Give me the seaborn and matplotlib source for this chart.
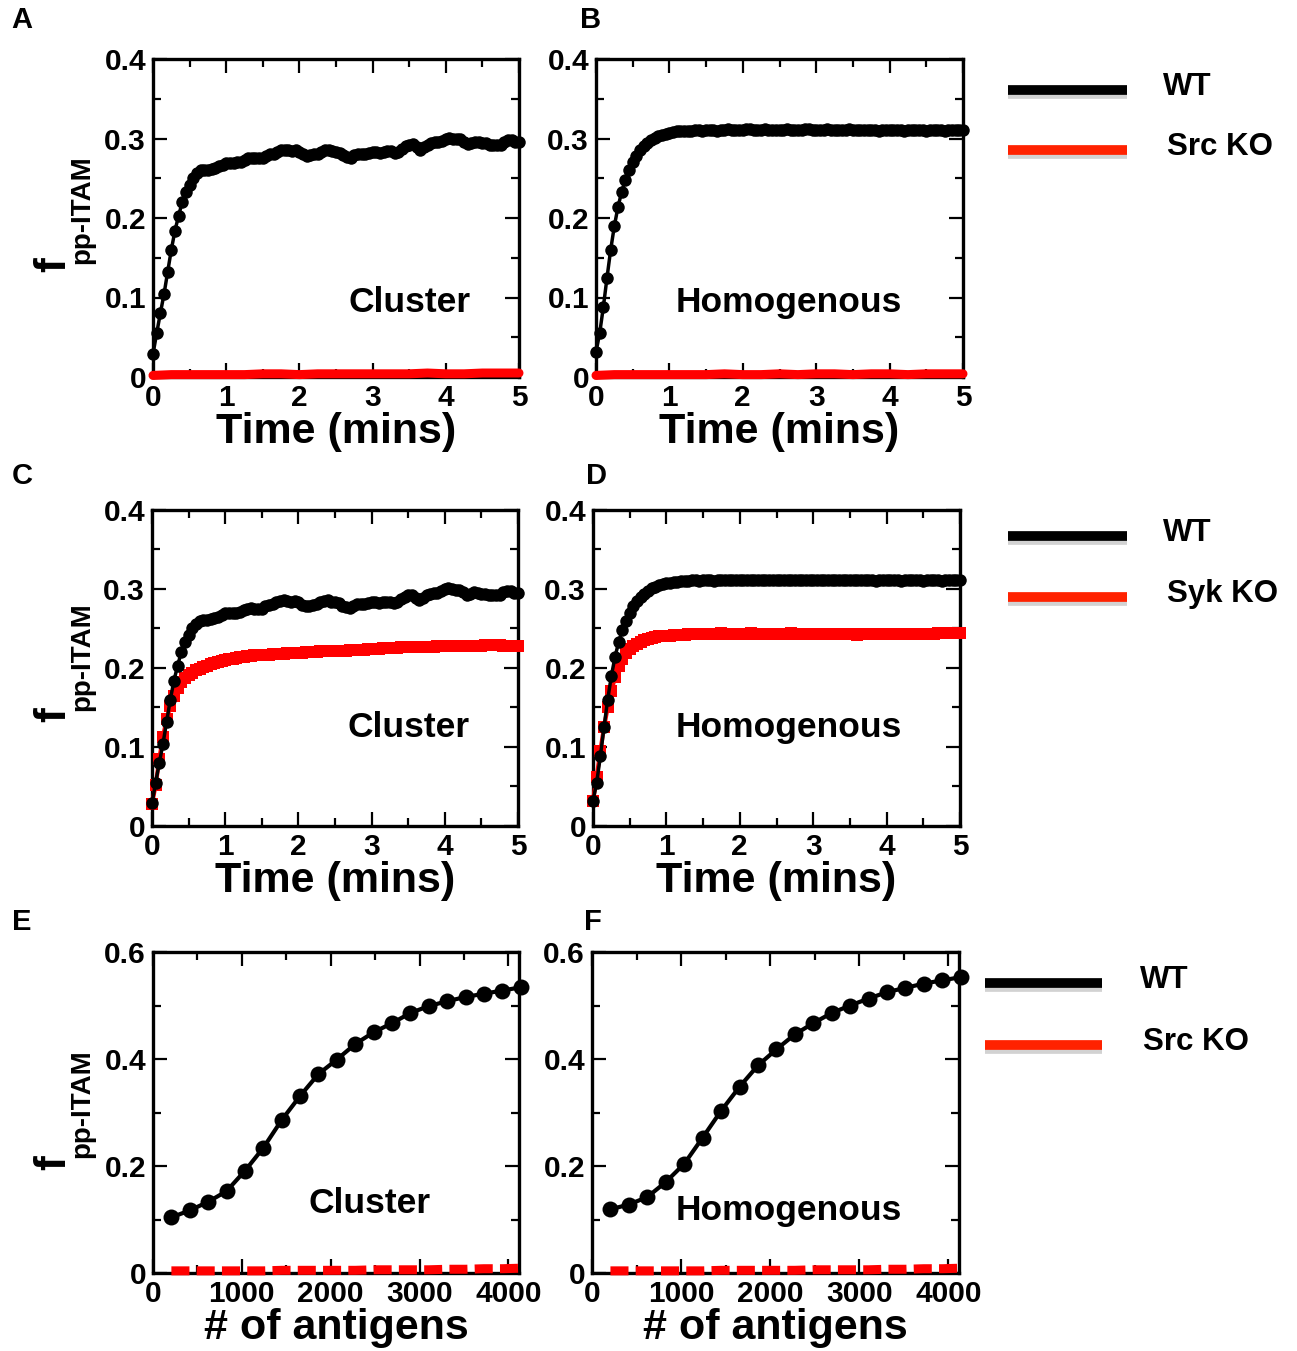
import numpy as np
import matplotlib
matplotlib.use("Agg")
import matplotlib.pyplot as plt
import matplotlib.patheffects as pe
from matplotlib.lines import Line2D
from matplotlib.ticker import MultipleLocator
import seaborn as sns

# ---------------- data ----------------
time_min = np.round(np.arange(0, 5.001, 0.05), 2)          # 101 samples
time_ko = [0, 0.25, 0.5, 0.75, 1.0, 1.25, 1.5, 1.75, 2.0, 2.25, 2.5,
           2.75, 3.0, 3.25, 3.5, 3.75, 4.0, 4.25, 4.5, 4.75, 5.0]

wt_cluster = [0.029, 0.055, 0.080, 0.104, 0.132, 0.160, 0.184, 0.203, 0.220, 0.233,
              0.242, 0.250, 0.256, 0.260, 0.261, 0.261, 0.262, 0.263, 0.265, 0.267,
              0.269, 0.269, 0.269, 0.270, 0.271, 0.273, 0.275, 0.276, 0.275, 0.275,
              0.275, 0.278, 0.280, 0.281, 0.283, 0.285, 0.286, 0.285, 0.284, 0.285,
              0.283, 0.280, 0.278, 0.279, 0.280, 0.281, 0.283, 0.285, 0.286, 0.284,
              0.283, 0.282, 0.279, 0.277, 0.276, 0.279, 0.281, 0.281, 0.281, 0.282,
              0.283, 0.283, 0.282, 0.283, 0.284, 0.284, 0.282, 0.283, 0.287, 0.290,
              0.292, 0.293, 0.289, 0.286, 0.289, 0.292, 0.294, 0.295, 0.295, 0.297,
              0.300, 0.301, 0.300, 0.299, 0.299, 0.296, 0.293, 0.294, 0.296, 0.295,
              0.294, 0.294, 0.292, 0.292, 0.292, 0.292, 0.296, 0.298, 0.298, 0.295,
              0.295]

wt_homog = [0.0315, 0.055, 0.088, 0.125, 0.160, 0.190, 0.214, 0.233, 0.248, 0.260,
            0.270, 0.278, 0.285, 0.290, 0.294, 0.298, 0.301, 0.303, 0.305, 0.306,
            0.307, 0.308, 0.309, 0.309, 0.310, 0.310, 0.310, 0.311, 0.311, 0.310,
            0.311, 0.311, 0.311, 0.310, 0.311, 0.311, 0.312, 0.311, 0.311, 0.311,
            0.311, 0.312, 0.312, 0.311, 0.311, 0.311, 0.312, 0.311, 0.311, 0.311,
            0.311, 0.311, 0.312, 0.311, 0.311, 0.311, 0.311, 0.312, 0.312, 0.311,
            0.311, 0.311, 0.311, 0.312, 0.311, 0.311, 0.311, 0.311, 0.311, 0.312,
            0.311, 0.311, 0.311, 0.311, 0.311, 0.311, 0.311, 0.310, 0.311, 0.311,
            0.311, 0.311, 0.311, 0.311, 0.310, 0.311, 0.311, 0.311, 0.311, 0.311,
            0.310, 0.311, 0.311, 0.311, 0.311, 0.310, 0.311, 0.311, 0.311, 0.311,
            0.311]

sykko_cluster = [0.028, 0.052, 0.085, 0.113, 0.135, 0.152, 0.165, 0.175, 0.182, 0.187,
                 0.191, 0.194, 0.197, 0.199, 0.201, 0.203, 0.205, 0.206, 0.208, 0.209,
                 0.210, 0.211, 0.212, 0.213, 0.214, 0.214, 0.215, 0.215, 0.216, 0.216,
                 0.217, 0.217, 0.217, 0.218, 0.218, 0.218, 0.218, 0.219, 0.219, 0.219,
                 0.219, 0.219, 0.220, 0.220, 0.220, 0.220, 0.221, 0.221, 0.221, 0.222,
                 0.222, 0.222, 0.222, 0.222, 0.223, 0.223, 0.223, 0.223, 0.223, 0.224,
                 0.224, 0.224, 0.224, 0.225, 0.225, 0.225, 0.225, 0.225, 0.226, 0.226,
                 0.226, 0.226, 0.226, 0.227, 0.227, 0.227, 0.227, 0.227, 0.228, 0.228,
                 0.228, 0.228, 0.228, 0.228, 0.228, 0.228, 0.228, 0.228, 0.228, 0.228,
                 0.228, 0.229, 0.229, 0.229, 0.229, 0.229, 0.228, 0.228, 0.228, 0.228,
                 0.228]

sykko_homog = [0.032, 0.062, 0.095, 0.125, 0.150, 0.171, 0.188, 0.202, 0.212, 0.219,
               0.224, 0.228, 0.231, 0.233, 0.235, 0.237, 0.238, 0.239, 0.240, 0.240,
               0.241, 0.241, 0.242, 0.242, 0.242, 0.242, 0.243, 0.243, 0.243, 0.243,
               0.243, 0.243, 0.243, 0.243, 0.243, 0.244, 0.243, 0.243, 0.243, 0.243,
               0.243, 0.243, 0.243, 0.244, 0.243, 0.243, 0.243, 0.243, 0.243, 0.243,
               0.243, 0.243, 0.243, 0.243, 0.244, 0.243, 0.243, 0.243, 0.243, 0.243,
               0.243, 0.243, 0.243, 0.243, 0.243, 0.243, 0.243, 0.243, 0.243, 0.243,
               0.243, 0.243, 0.242, 0.243, 0.243, 0.243, 0.243, 0.243, 0.243, 0.243,
               0.243, 0.243, 0.243, 0.243, 0.243, 0.243, 0.243, 0.243, 0.243, 0.243,
               0.243, 0.243, 0.243, 0.243, 0.244, 0.244, 0.244, 0.244, 0.244, 0.244,
               0.244]

srcko_cluster = [0.002, 0.003, 0.003, 0.003, 0.003, 0.003, 0.004, 0.004, 0.003, 0.004,
                 0.004, 0.004, 0.004, 0.004, 0.004, 0.005, 0.004, 0.004, 0.005, 0.005, 0.005]
srcko_homog = [0.002, 0.003, 0.003, 0.003, 0.003, 0.003, 0.003, 0.004, 0.003, 0.003,
               0.004, 0.003, 0.004, 0.004, 0.003, 0.004, 0.004, 0.003, 0.004, 0.004, 0.004]

antigens = [207, 414, 621, 828, 1035, 1242, 1449, 1656, 1863, 2070,
            2277, 2484, 2691, 2898, 3105, 3312, 3519, 3726, 3933, 4140]
wt_dose_cluster = [0.104, 0.117, 0.133, 0.153, 0.191, 0.234, 0.286, 0.331, 0.372, 0.399,
                   0.428, 0.450, 0.467, 0.486, 0.499, 0.508, 0.516, 0.522, 0.528, 0.534]
wt_dose_homog = [0.119, 0.128, 0.142, 0.170, 0.204, 0.253, 0.303, 0.348, 0.388, 0.418,
                 0.446, 0.467, 0.486, 0.500, 0.513, 0.525, 0.533, 0.541, 0.547, 0.553]
srcko_dose_cluster = [0.004, 0.004, 0.004, 0.004, 0.004, 0.004, 0.005, 0.005, 0.005, 0.005,
                      0.005, 0.006, 0.006, 0.006, 0.006, 0.007, 0.007, 0.008, 0.008, 0.009]
srcko_dose_homog = [0.004, 0.004, 0.004, 0.004, 0.004, 0.004, 0.005, 0.005, 0.005, 0.005,
                    0.005, 0.006, 0.006, 0.006, 0.006, 0.007, 0.007, 0.008, 0.008, 0.009]

time_ticks = [0, 1, 2, 3, 4, 5]
time_ticklabels = ["0", "1", "2", "3", "4", "5"]
frac_ticks = [0, 0.1, 0.2, 0.3, 0.4]
frac_ticklabels = ["0", "0.1", "0.2", "0.3", "0.4"]
dose_xticks = [0, 1000, 2000, 3000, 4000]
dose_xticklabels = ["0", "1000", "2000", "3000", "4000"]
dose_yticks = [0, 0.2, 0.4, 0.6]
dose_yticklabels = ["0", "0.2", "0.4", "0.6"]

panel_letters = ["A", "B", "C", "D", "E", "F"]
panel_texts = ["Cluster", "Homogenous", "Cluster", "Homogenous", "Cluster", "Homogenous"]
legend_rows = [("WT", "Src KO"), ("WT", "Syk KO"), ("WT", "Src KO")]

# ---------------- style ----------------
sns.set_style("white")
plt.rcParams["font.family"] = ["Liberation Sans", "DejaVu Sans"]
plt.rcParams["font.weight"] = "bold"
plt.rcParams["axes.labelweight"] = "bold"
plt.rcParams["text.color"] = "black"
plt.rcParams["axes.labelcolor"] = "black"
plt.rcParams["xtick.color"] = "black"
plt.rcParams["ytick.color"] = "black"

W, H = 1297, 1351
fig = plt.figure(figsize=(W / 100, H / 100), dpi=100)


def rect(l, r, t, b):
    return [l / W, 1 - b / H, (r - l) / W, (b - t) / H]


RED = "#ff0000"
LEG_RED = "#ff2200"


def style_axes(ax, xt, xtl, yt, ytl, xminor, yminor, xlabel):
    ax.set_xticks(xt)
    ax.set_xticklabels(xtl)
    ax.set_yticks(yt)
    ax.set_yticklabels(ytl)
    ax.xaxis.set_minor_locator(MultipleLocator(xminor))
    ax.yaxis.set_minor_locator(MultipleLocator(yminor))
    ax.tick_params(which="both", direction="in", top=True, right=True,
                   bottom=True, left=True, width=1.6, color="black")
    ax.tick_params(which="major", length=10, labelsize=21.5, pad=5,
                   labelcolor="black")
    ax.tick_params(which="minor", length=6)
    for lab in ax.get_xticklabels() + ax.get_yticklabels():
        lab.set_fontweight("bold")
    for s in ax.spines.values():
        s.set_linewidth(2.4)
        s.set_color("black")
    ax.set_xlabel(xlabel, fontsize=31, fontweight="bold", labelpad=0, color="black")
    ax.set_ylabel("")
    ax.grid(False)


axes_rects = [rect(153, 519, 59, 377), rect(596, 963, 59, 377),
              rect(152, 518, 510, 826), rect(593, 960, 510, 826),
              rect(153, 519, 952, 1273), rect(592, 959, 952, 1273)]
axs = [fig.add_axes(r) for r in axes_rects]

wt_time = [wt_cluster, wt_homog, wt_cluster, wt_homog]
for i in range(4):
    ax = axs[i]
    if i in (0, 1):
        ko = srcko_cluster if i == 0 else srcko_homog
        sns.lineplot(x=time_ko, y=ko, ax=ax, color=RED, linewidth=6.5,
                     estimator=None, clip_on=False, zorder=6)
    else:
        ko = sykko_cluster if i == 2 else sykko_homog
        sns.lineplot(x=time_min, y=ko, ax=ax, color=RED, linewidth=3,
                     marker="s", markersize=8.5, markeredgewidth=0,
                     estimator=None, clip_on=False, zorder=4)
    sns.lineplot(x=time_min, y=wt_time[i], ax=ax, color="black", linewidth=2.5,
                 marker="o", markersize=9, markeredgewidth=0,
                 estimator=None, clip_on=False, zorder=5)
    ax.set_xlim(0, 5)
    ax.set_ylim(0, 0.4)
    style_axes(ax, time_ticks, time_ticklabels, frac_ticks, frac_ticklabels,
               0.5, 0.05, "Time (mins)")

dose_wt = [wt_dose_cluster, wt_dose_homog]
dose_ko = [srcko_dose_cluster, srcko_dose_homog]
for j in range(2):
    ax = axs[4 + j]
    sns.lineplot(x=antigens, y=dose_ko[j], ax=ax, color=RED, linewidth=6.5,
                 estimator=None, clip_on=False, zorder=6)
    ax.lines[-1].set_dashes([2.0, 0.8])
    sns.lineplot(x=antigens, y=dose_wt[j], ax=ax, color="black", linewidth=3,
                 marker="o", markersize=11.5, markeredgewidth=0,
                 estimator=None, clip_on=False, zorder=5)
    ax.set_xlim(0, 4120)
    ax.set_ylim(0, 0.6)
    style_axes(ax, dose_xticks, dose_xticklabels, dose_yticks, dose_yticklabels,
               500, 0.1, "# of antigens")

# panel inner texts (axes fraction)
text_pos = [(0.70, 0.233), (0.526, 0.233), (0.702, 0.313), (0.534, 0.313),
            (0.593, 0.218), (0.537, 0.196)]
for ax, txt, (px, py) in zip(axs, panel_texts, text_pos):
    ax.text(px, py, txt, transform=ax.transAxes, fontsize=25.5, fontweight="bold",
            ha="center", va="center", color="black")

# panel letters
letter_pos = [(22, 20), (591, 20), (22, 476), (596, 476), (22, 922), (593, 922)]
for L, (x, y) in zip(panel_letters, letter_pos):
    fig.text(x / W, 1 - y / H, L, fontsize=21, fontweight="bold",
             ha="center", va="center", color="black")

# y labels  f_{pp-ITAM}
for fy, sy in [(265, 210), (715, 657), (1163, 1104)]:
    fig.text(54 / W, 1 - fy / H, "f", rotation=90, fontsize=32, fontweight="bold",
             ha="center", va="center", color="black")
    fig.text(82 / W, 1 - sy / H, "pp-ITAM", rotation=90, fontsize=20,
             fontweight="bold", ha="center", va="center", color="black")

# legends
legend_geom = [
    # x0, x1, y_black, y_red, tx_black, tx_red
    (1008, 1127, 90, 150, 1163, 1167),
    (1008, 1127, 536, 597, 1163, 1167),
    (985, 1102, 983, 1045, 1140, 1143),
]
for (lab1, lab2), (x0, x1, yb, yr, tb, tr) in zip(legend_rows, legend_geom):
    for yy, col, lab, tx in [(yb, "black", lab1, tb), (yr, LEG_RED, lab2, tr)]:
        ln = Line2D([x0 / W, x1 / W], [1 - yy / H, 1 - yy / H], transform=fig.transFigure,
                    color=col, linewidth=7, solid_capstyle="butt",
                    path_effects=[pe.SimpleLineShadow(offset=(0, -3), shadow_color="gray", alpha=0.35),
                                  pe.Normal()])
        fig.add_artist(ln)
        fig.text(tx / W, 1 - (yy - 3) / H, lab, fontsize=22.5, fontweight="bold",
                 ha="left", va="center", color="black")

fig.savefig("out.png", dpi=100)
